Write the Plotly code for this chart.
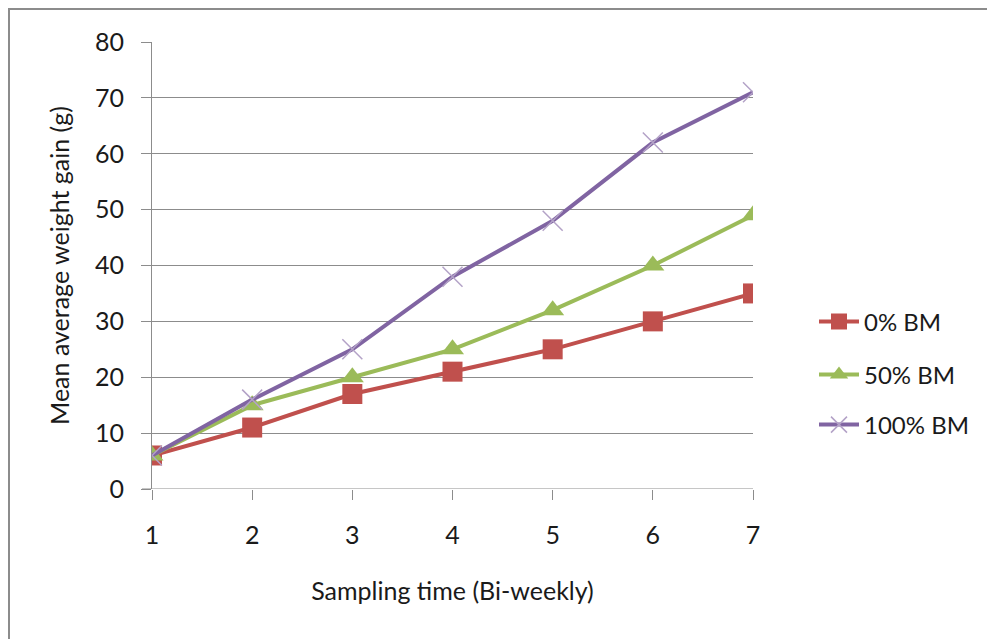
import plotly.graph_objects as go

sampling_time = [1, 2, 3, 4, 5, 6, 7]
bm_0 = [6, 11, 17, 21, 25, 30, 35]
bm_50 = [6, 15, 20, 25, 32, 40, 49]
bm_100 = [6, 16, 25, 38, 48, 62, 71]
series_names = ["0% BM", "50% BM", "100% BM"]
y_ticks = [0, 10, 20, 30, 40, 50, 60, 70, 80]

W, H = 987, 639
L, R, T, B = 152, 234, 42, 150
pw, ph = W - L - R, H - T - B

FONT = "Lato, 'Open Sans', sans-serif"
TXT = "#1a1a1a"
GRID = "#8C8C8C"

def px_x(p):
    return (p - L) / pw

def px_y(p):
    return 1 - (p - T) / ph

fig = go.Figure()
fig.add_trace(go.Scatter(x=sampling_time, y=bm_0, name=series_names[0], mode="lines+markers",
                         line=dict(color="#C0504D", width=4), legend="legend",
                         marker=dict(symbol="square", size=20, color="#C0504D")))
fig.add_trace(go.Scatter(x=sampling_time, y=bm_50, name=series_names[1], mode="lines+markers",
                         line=dict(color="#9BBB59", width=4), legend="legend2",
                         marker=dict(symbol="triangle-up", size=20, color="#9BBB59")))
fig.add_trace(go.Scatter(x=sampling_time, y=bm_100, name=series_names[2], mode="lines+markers",
                         line=dict(color="#8064A2", width=4), legend="legend3",
                         marker=dict(symbol="x-thin", size=20, color="#8064A2",
                                     line=dict(color="#B3A2C7", width=1.5))))

fig.add_shape(type="rect", xref="paper", yref="paper",
              x0=px_x(9), y0=px_y(700), x1=px_x(1100), y1=px_y(9),
              line=dict(color=GRID, width=2), fillcolor="rgba(0,0,0,0)", layer="below")
fig.add_shape(type="line", xref="paper", yref="y", x0=px_x(142), x1=1, y0=0, y1=0,
              line=dict(color=GRID, width=1), layer="below")

leg_common = dict(xanchor="left", yanchor="middle", font=dict(size=24, color=TXT),
                  bgcolor="rgba(0,0,0,0)", itemwidth=40)

fig.update_layout(
    width=W, height=H,
    margin=dict(l=L, r=R, t=T, b=B),
    plot_bgcolor="white", paper_bgcolor="white",
    font=dict(family=FONT, size=25, color=TXT),
    showlegend=True,
    legend=dict(x=px_x(814), y=px_y(322), **leg_common),
    legend2=dict(x=px_x(814), y=px_y(375), **leg_common),
    legend3=dict(x=px_x(814), y=px_y(425), **leg_common),
    xaxis=dict(range=[1, 7], tickvals=sampling_time, showgrid=False, zeroline=False,
               showline=False, ticks="outside", ticklen=10, tickcolor=GRID,
               ticklabelstandoff=14,
               title=dict(text="Sampling time (Bi-weekly)", standoff=34, font=dict(size=25)),
               tickfont=dict(size=25)),
    yaxis=dict(range=[0, 80], tickvals=y_ticks, showgrid=True, gridcolor=GRID, gridwidth=1,
               zeroline=False, showline=True, linecolor=GRID, linewidth=1,
               ticks="outside", ticklen=10, tickcolor=GRID,
               ticklabelstandoff=12,
               title=dict(text="Mean average weight gain (g)", standoff=18, font=dict(size=25)),
               tickfont=dict(size=25)),
)

fig.write_html("out.html")
